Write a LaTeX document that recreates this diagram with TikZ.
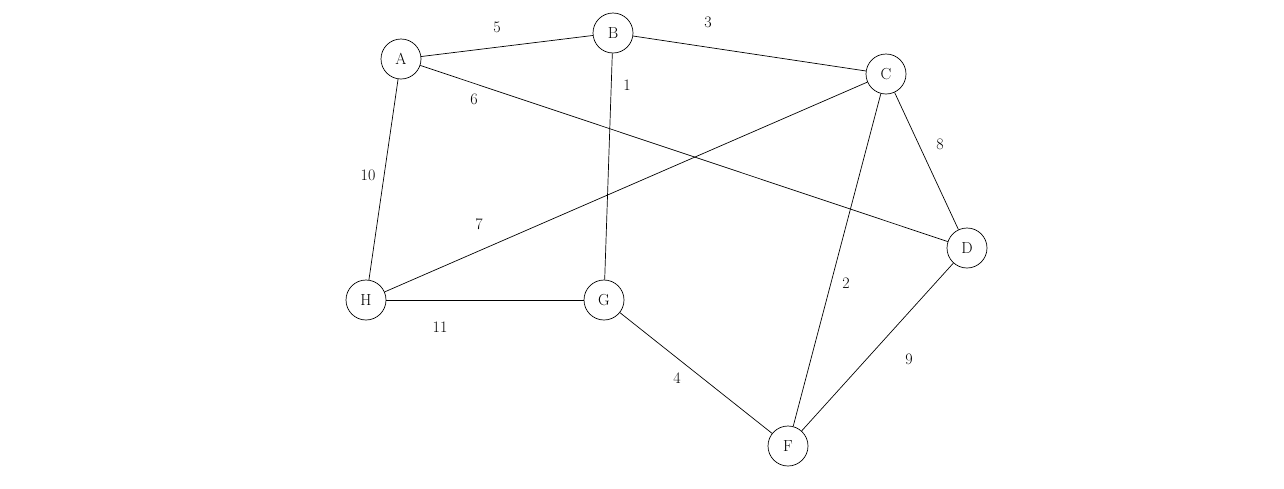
\documentclass[tikz,border=0pt]{standalone}
\begin{document}
\begin{tikzpicture}[x=1pt,y=-1pt,
  vert/.style={circle,draw,line width=0.7pt,minimum size=40pt,inner sep=0pt,font=\fontsize{16}{19}\selectfont},
  wlabel/.style={font=\fontsize{16}{19}\selectfont},
  edge/.style={draw,line width=0.7pt}]
\useasboundingbox (0,0) rectangle (1284,488);
\node[vert] (A) at (401,59) {A};
\node[vert] (B) at (613,33) {B};
\node[vert] (C) at (886,74) {C};
\node[vert] (D) at (967,248) {D};
\node[vert] (H) at (366,300) {H};
\node[vert] (G) at (604,300) {G};
\node[vert] (F) at (788,446) {F};
\draw[edge] (A)--(B); \draw[edge] (B)--(C); \draw[edge] (B)--(G);
\draw[edge] (A)--(D); \draw[edge] (A)--(H); \draw[edge] (C)--(H);
\draw[edge] (C)--(D); \draw[edge] (C)--(F); \draw[edge] (H)--(G);
\draw[edge] (G)--(F); \draw[edge] (D)--(F);
\node[wlabel] (l5) at (497,27) {5};
\node[wlabel] (l3) at (708,22) {3};
\node[wlabel] (l1) at (627,85) {1};
\node[wlabel] (l6) at (474,99) {6};
\node[wlabel] (l10) at (368,175) {10};
\node[wlabel] (l7) at (479,224) {7};
\node[wlabel] (l8) at (940,144) {8};
\node[wlabel] (l11) at (440,327) {11};
\node[wlabel] (l2) at (846,283) {2};
\node[wlabel] (l4) at (677,378) {4};
\node[wlabel] (l9) at (909,359) {9};
\end{tikzpicture}
\end{document}
